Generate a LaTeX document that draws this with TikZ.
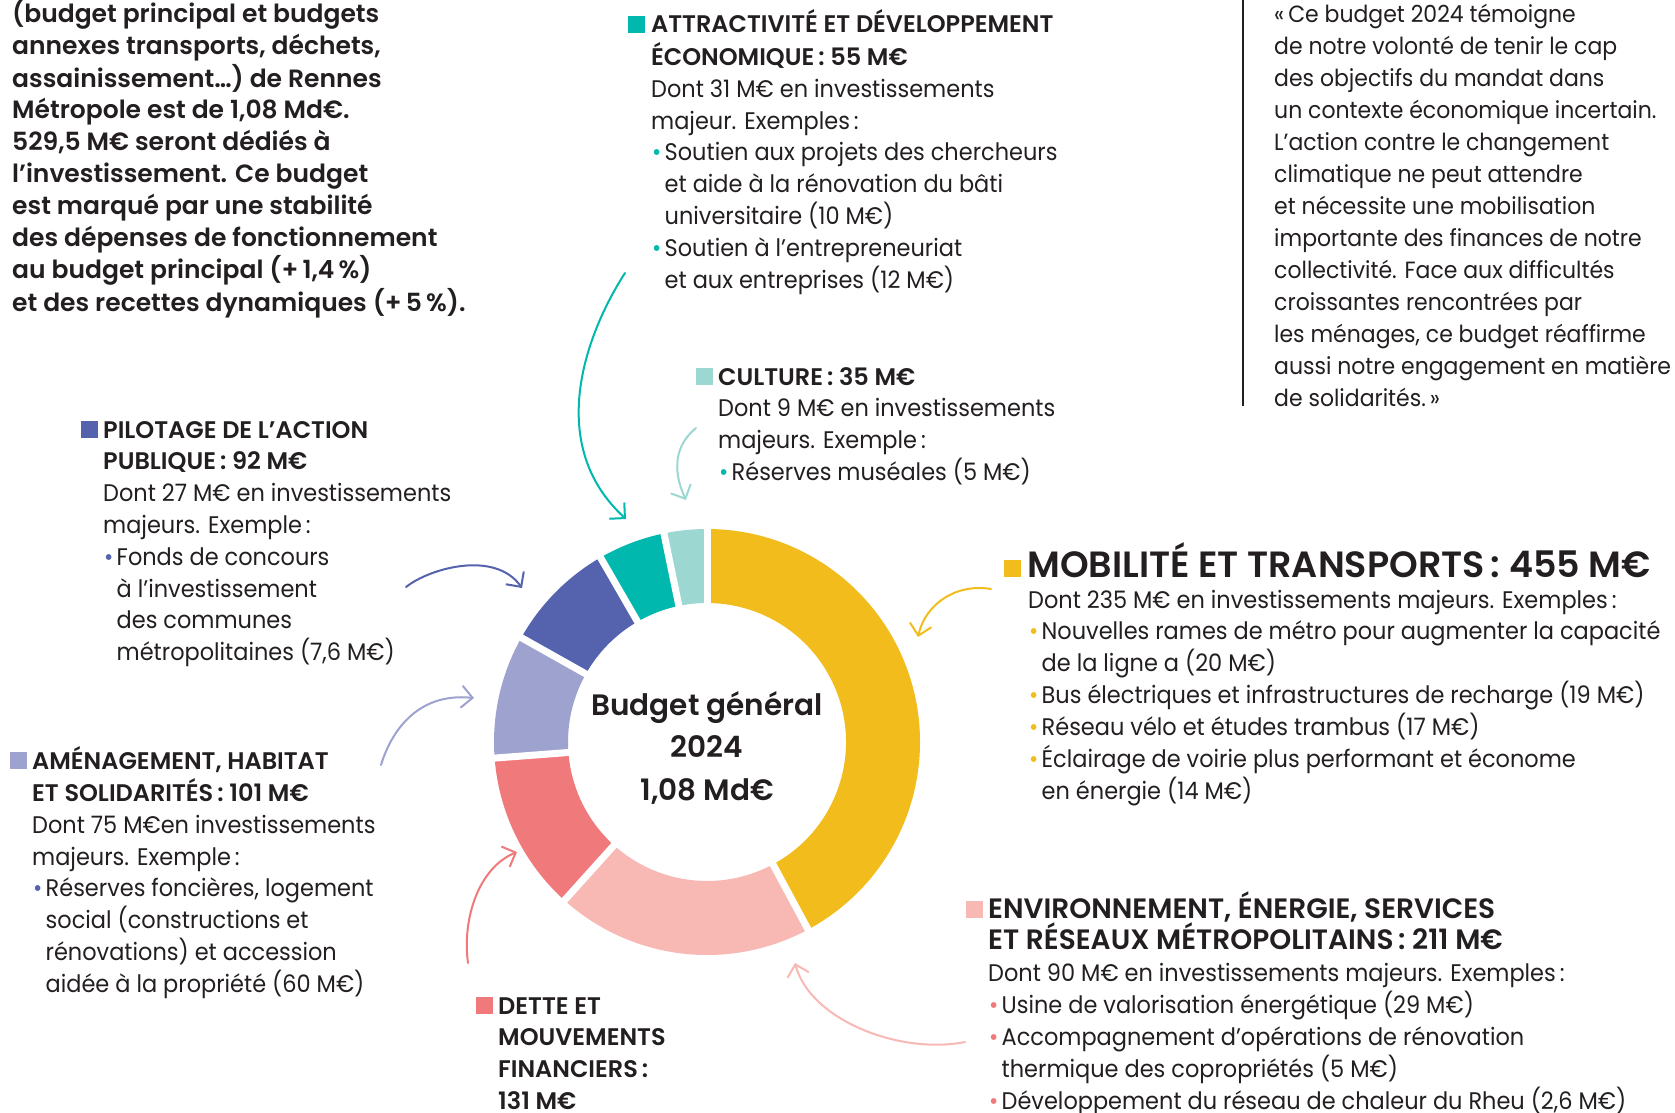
\documentclass[tikz,border=0pt]{standalone}
\usepackage{fontspec}
\setmainfont{Poppins}[BoldFont={Poppins SemiBold}, UprightFeatures={FakeStretch=0.935}]
\usetikzlibrary{arrows.meta}
\definecolor{ink}{HTML}{231F20}
\definecolor{cY}{HTML}{F2BD1C}
\definecolor{cP}{HTML}{F8B9B4}
\definecolor{cR}{HTML}{F07A7B}
\definecolor{cL}{HTML}{9EA2CF}
\definecolor{cB}{HTML}{5563AE}
\definecolor{cT}{HTML}{00B8AD}
\definecolor{cLT}{HTML}{9CD7D1}
\newcommand{\bul}[1]{\makebox[13.5pt][l]{\hspace{1pt}\textcolor{#1}{•}}}
\newcommand{\ind}{\hspace*{13.5pt}}
\newcommand{\bighead}[1]{\smash{\fontsize{28}{31.8}\selectfont\bfseries #1}}
\begin{document}
\begin{tikzpicture}[x=1pt,y=-1pt,
  txt/.style={anchor=base west, inner sep=0pt, text=ink, font=\fontsize{24}{31.8}\selectfont},
  arr/.style={line width=2pt, line cap=round, line join=round, -{Straight Barb[length=11pt,width=22pt]}},
  sq/.style={inner sep=0pt, minimum size=16.5pt, anchor=south east}
]
\useasboundingbox (0,0) rectangle (1675,1113);
\fill[white] (0,0) rectangle (1675,1113);

% ---------- donut ----------
\begin{scope}[shift={(707,742)}, y=1pt]
  \foreach \a/\b/\c in {90/-61.67/cY, -61.67/-132/cP, -132/-175.67/cR, -175.67/-209.33/cL, -209.33/-240/cB, -240/-258.33/cT, -258.33/-270/cLT}{
    \fill[\c] (\a:213pt) arc[start angle=\a, end angle=\b, radius=213pt] -- (\b:139pt) arc[start angle=\b, end angle=\a, radius=139pt] -- cycle;
  }
  \foreach \a in {90,-61.67,-132,-175.67,-209.33,-240,-258.33}{
    \draw[white, line width=7pt] (\a:132pt) -- (\a:220pt);
  }
\end{scope}

\node[anchor=base, inner sep=0pt, text=ink, font=\bfseries\fontsize{29.5}{42.5}\selectfont] (center) at (707,715)
  {\begin{tabular}[t]{@{}c@{}}Budget général\\2024\\1,08 Md€\end{tabular}};

% ---------- intro ----------
\node[txt, font=\bfseries\fontsize{25}{31.8}\selectfont] (intro) at (12,22.7) {\begin{tabular}[t]{@{}l@{}}
(budget principal et budgets\\
annexes transports, déchets,\\
assainissement…) de Rennes\\
Métropole est de 1,08 Md€.\\
529,5 M€ seront dédiés à\\
l’investissement. Ce budget\\
est marqué par une stabilité\\
des dépenses de fonctionnement\\
au budget principal (+\,1,4\,\%)\\
et des recettes dynamiques (+\,5\,\%).
\end{tabular}};

% ---------- quote ----------
\draw[ink, line width=2pt] (1243,0) -- (1243,406);
\node[txt, font=\fontsize{23.5}{32}\selectfont] (quote) at (1274,22.7) {\begin{tabular}[t]{@{}l@{}}
«\,Ce budget 2024 témoigne\\
de notre volonté de tenir le cap\\
des objectifs du mandat dans\\
un contexte économique incertain.\\
L’action contre le changement\\
climatique ne peut attendre\\
et nécessite une mobilisation\\
importante des finances de notre\\
collectivité. Face aux difficultés\\
croissantes rencontrées par\\
les ménages, ce budget réaffirme\\
aussi notre engagement en matière\\
de solidarités.\,»
\end{tabular}};

% ---------- attractivité ----------
\node[sq, fill=cT] (sqA) at (645,33) {};
\node[txt] (attr) at (651,33) {\begin{tabular}[t]{@{}l@{}}
\textbf{ATTRACTIVITÉ ET DÉVELOPPEMENT}\\
\textbf{ÉCONOMIQUE\,: 55 M€}\\
Dont 31 M€ en investissements\\
majeur. Exemples\,:\\
\bul{cT}Soutien aux projets des chercheurs\\
\ind et aide à la rénovation du bâti\\
\ind universitaire (10 M€)\\
\bul{cT}Soutien à l’entrepreneuriat\\
\ind et aux entreprises (12 M€)
\end{tabular}};

% ---------- culture ----------
\node[sq, fill=cLT] (sqC) at (713,385) {};
\node[txt] (cult) at (718,385) {\begin{tabular}[t]{@{}l@{}}
\textbf{CULTURE\,: 35 M€}\\
Dont 9 M€ en investissements\\
majeurs. Exemple\,:\\
\bul{cT}Réserves muséales (5 M€)
\end{tabular}};

% ---------- pilotage ----------
\node[sq, fill=cB] (sqP) at (98,438) {};
\node[txt] (pilo) at (103,438) {\begin{tabular}[t]{@{}l@{}}
\textbf{PILOTAGE DE L’ACTION}\\
\textbf{PUBLIQUE\,: 92 M€}\\
Dont 27 M€ en investissements\\
majeurs. Exemple\,:\\
\bul{cB}Fonds de concours\\
\ind à l’investissement\\
\ind des communes\\
\ind métropolitaines (7,6 M€)
\end{tabular}};

% ---------- aménagement ----------
\node[sq, fill=cL] (sqM) at (27,769) {};
\node[txt] (amen) at (32,769) {\begin{tabular}[t]{@{}l@{}}
\textbf{AMÉNAGEMENT, HABITAT}\\
\textbf{ET SOLIDARITÉS\,: 101 M€}\\
Dont 75 M€en investissements\\
majeurs. Exemple\,:\\
\bul{cB}Réserves foncières, logement\\
\ind social (constructions et\\
\ind rénovations) et accession\\
\ind aidée à la propriété (60 M€)
\end{tabular}};

% ---------- dette ----------
\node[sq, fill=cR] (sqD) at (493,1014) {};
\node[txt, font=\bfseries\fontsize{24}{31.8}\selectfont] (dette) at (498,1014) {\begin{tabular}[t]{@{}l@{}}
DETTE ET\\
MOUVEMENTS\\
FINANCIERS\,:\\
131 M€
\end{tabular}};

% ---------- mobilité ----------
\node[sq, fill=cY] (sqY) at (1021,577) {};
\node[txt, font=\bfseries\fontsize{36.5}{40}\selectfont] (mobT) at (1027,577) {MOBILITÉ ET TRANSPORTS\,: 455 M€};
\node[txt] (mob) at (1028,608) {\begin{tabular}[t]{@{}l@{}}
Dont 235 M€ en investissements majeurs. Exemples\,:\\
\bul{cY}Nouvelles rames de métro pour augmenter la capacité\\
\ind de la ligne a (20 M€)\\
\bul{cY}Bus électriques et infrastructures de recharge (19 M€)\\
\bul{cY}Réseau vélo et études trambus (17 M€)\\
\bul{cY}Éclairage de voirie plus performant et économe\\
\ind en énergie (14 M€)
\end{tabular}};

% ---------- environnement ----------
\node[sq, fill=cP] (sqE) at (983,918) {};
\node[txt] (envi) at (988,918) {\begin{tabular}[t]{@{}l@{}}
\bighead{ENVIRONNEMENT, ÉNERGIE, SERVICES}\\
\bighead{ET RÉSEAUX MÉTROPOLITAINS\,: 211 M€}\\
Dont 90 M€ en investissements majeurs. Exemples\,:\\
\bul{cR}Usine de valorisation énergétique (29 M€)\\
\bul{cR}Accompagnement d’opérations de rénovation\\
\ind thermique des copropriétés (5 M€)\\
\bul{cR}Développement du réseau de chaleur du Rheu (2,6 M€)
\end{tabular}};

% ---------- arrows ----------
\coordinate (aTs) at (625,273);  \coordinate (aTe) at (626,519);
\coordinate (aCs) at (696,428);  \coordinate (aCe) at (686,500);
\coordinate (aBs) at (406,587);  \coordinate (aBe) at (522,588);
\coordinate (aLs) at (381,765);  \coordinate (aLe) at (474,698);
\coordinate (aRs) at (468,963);  \coordinate (aRe) at (517,852);
\coordinate (aYs) at (991,589);  \coordinate (aYe) at (918,637);
\coordinate (aPs) at (965,1042); \coordinate (aPe) at (795,963);

\draw[arr, cT]  (aTs) .. controls (585,335) and (545,445) .. (aTe);
\draw[arr, cLT] (aCs) .. controls (675,445) and (672,470) .. (aCe);
\draw[arr, cB]  (aBs) .. controls (430,568) and (495,550) .. (aBe);
\draw[arr, cL]  (aLs) .. controls (390,735) and (415,692) .. (aLe);
\draw[arr, cR]  (aRs) .. controls (462,920) and (478,868) .. (aRe);
\draw[arr, cY]  (aYs) .. controls (955,583) and (925,605) .. (aYe);
\draw[arr, cP]  (aPs) .. controls (900,1055) and (810,1020) .. (aPe);
\end{tikzpicture}
\end{document}
